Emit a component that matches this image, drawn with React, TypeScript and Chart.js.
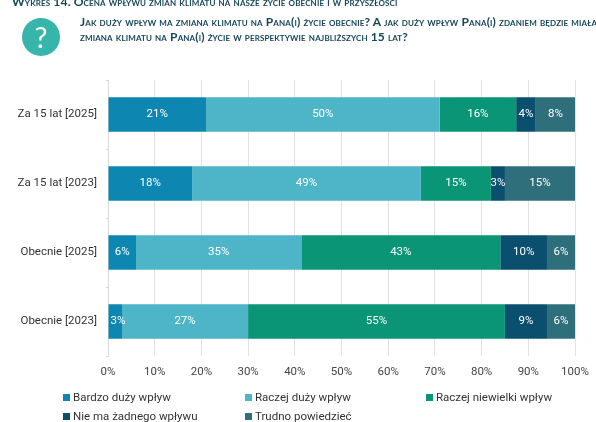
import React, { useEffect, useRef } from "react";
import { Chart, registerables } from "chart.js";

Chart.register(...registerables);

const categories = ["Za 15 lat [2025]", "Za 15 lat [2023]", "Obecnie [2025]", "Obecnie [2023]"];
const bardzoDuzy = [21, 18, 6, 3];
const raczejDuzy = [50, 49, 35.4, 27];
const raczejNiewielki = [16.4, 15, 42.6, 55];
const nieMa = [4.2, 3, 10, 9];
const trudno = [8.4, 15, 6, 6];
const seriesNames = ["Bardzo duży wpływ", "Raczej duży wpływ", "Raczej niewielki wpływ", "Nie ma żadnego wpływu", "Trudno powiedzieć"];
const seriesColors = ["#0e86b2", "#4db5c7", "#0a9576", "#0b4f6e", "#2f6f7c"];
const seriesValues = [bardzoDuzy, raczejDuzy, raczejNiewielki, nieMa, trudno];
const chartTitle = "Wykres 14. Ocena wpływu zmian klimatu na nasze życie obecnie i w przyszłości";
const questionLine1 = "Jak duży wpływ ma zmiana klimatu na Pana(i) życie obecnie? A jak duży wpływ Pana(i) zdaniem będzie miała";
const questionLine2 = "zmiana klimatu na Pana(i) życie w perspektywie najbliższych 15 lat?";

const FONT = "Roboto, sans-serif";

const barLabels = {
  id: "barLabels",
  afterDatasetsDraw(chart: any) {
    const { ctx } = chart;
    ctx.save();
    ctx.font = `11.5px ${FONT}`;
    ctx.textAlign = "center";
    ctx.textBaseline = "middle";
    ctx.fillStyle = "#ffffff";
    chart.data.datasets.forEach((ds: any, i: number) => {
      chart.getDatasetMeta(i).data.forEach((bar: any, j: number) => {
        const text = `${Math.round(ds.data[j])}%`;
        let x = (bar.x + bar.base) / 2;
        if (i === 0) x = Math.max(x, bar.base + 2 + ctx.measureText(text).width / 2);
        ctx.fillText(text, x, bar.y);
      });
    });
    ctx.restore();
  },
};

export default function App() {
  const ref = useRef<HTMLCanvasElement>(null);
  useEffect(() => {
    document.body.style.margin = "0";
    const chart = new Chart(ref.current!, {
      type: "bar",
      data: {
        labels: categories,
        datasets: seriesNames.map((name, i) => ({
          label: name,
          data: seriesValues[i],
          backgroundColor: seriesColors[i],
          barPercentage: 0.5,
          categoryPercentage: 1,
        })),
      },
      plugins: [barLabels],
      options: {
        indexAxis: "y",
        animation: false,
        responsive: false,
        layout: { padding: { top: 80, left: 0, right: 21, bottom: 0 } },
        plugins: { legend: { display: false }, tooltip: { enabled: false }, title: { display: false } },
        scales: {
          x: {
            stacked: true,
            min: 0,
            max: 100,
            position: "bottom",
            ticks: { stepSize: 10, maxRotation: 0, callback: (v: any) => `${v}%`, color: "#444", font: { family: FONT, size: 11.5 }, padding: 9 },
            grid: { color: "#e2e2e2", drawTicks: false },
            border: { display: false },
            afterFit: (s: any) => { s.height = 66; s.paddingLeft = 0; s.paddingRight = 0; },
          },
          y: {
            stacked: true,
            ticks: { color: "#333", font: { family: FONT, size: 11.5 }, padding: 9 },
            grid: { drawOnChartArea: false, drawTicks: true, tickLength: 2, color: "#d9d9d9" },
            border: { color: "#d9d9d9" },
            afterFit: (s: any) => { s.width = 108; },
          },
        },
      },
    } as any);
    return () => chart.destroy();
  }, []);

  const legendPos = [[63, 390], [245, 390], [426, 390], [63, 409], [245, 409]];
  return (
    <div style={{ position: "relative", width: 596, height: 422, overflow: "hidden", background: "#fff", fontFamily: FONT }}>
      <canvas ref={ref} width={596} height={422} style={{ position: "absolute", left: 0, top: 0, display: "block" }} />
      <div style={{ position: "absolute", left: 12, top: -6, fontFamily: "Lato, sans-serif", fontVariant: "small-caps", fontWeight: 700, fontSize: 12.1, letterSpacing: "0.13px", color: "#17465a", whiteSpace: "nowrap" }}>{chartTitle}</div>
      <div style={{ position: "absolute", left: 22, top: 18, width: 38, height: 38, borderRadius: "50%", background: "#36b5ab", color: "#fff", fontSize: 29, lineHeight: "38px", textAlign: "center", fontFamily: "Lato, sans-serif" }}>?</div>
      <div style={{ position: "absolute", left: 80, top: 14, fontFamily: "Lato, sans-serif", fontVariant: "small-caps", fontWeight: 700, fontSize: 12, letterSpacing: "0.125px", lineHeight: "15px", color: "#17465a", whiteSpace: "nowrap" }}>
        {questionLine1}<br />{questionLine2}
      </div>
      {seriesNames.map((n, i) => (
        <div key={n} style={{ position: "absolute", left: legendPos[i][0], top: legendPos[i][1], display: "flex", alignItems: "center", fontSize: 11.5, color: "#333", whiteSpace: "nowrap" }}>
          <span style={{ display: "inline-block", width: 7, height: 7, background: seriesColors[i], marginRight: 3 }} />{n}
        </div>
      ))}
    </div>
  );
}
